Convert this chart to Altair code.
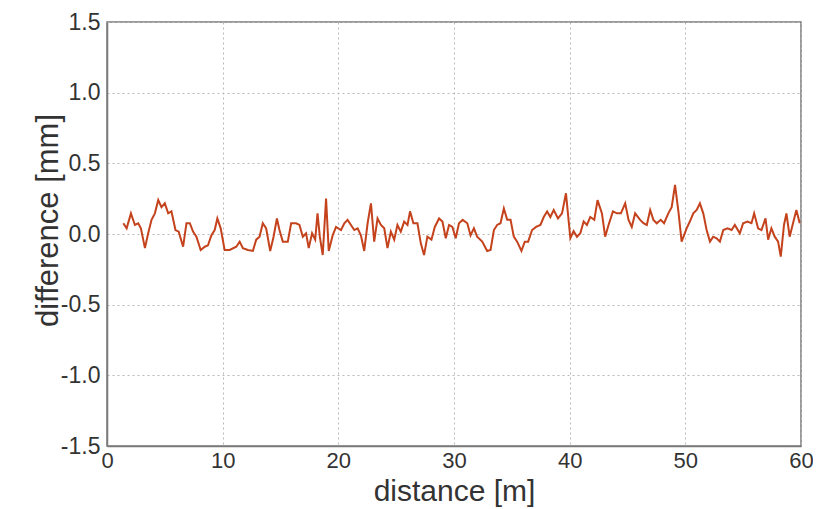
import altair as alt
import pandas as pd

distance = [
    1.41, 1.70, 2.07, 2.41, 2.70, 2.93, 3.28, 3.56, 3.85, 4.14, 4.43, 4.71, 5.00, 5.29, 5.57,
    5.92, 6.20, 6.58, 6.87, 7.16, 7.44, 7.73, 8.10, 8.45, 8.73, 9.02, 9.31, 9.54, 9.83, 10.17,
    10.60, 11.18, 11.47, 11.75, 12.18, 12.61, 12.90, 13.19, 13.47, 13.76, 14.11, 14.40, 14.69,
    14.91, 15.20, 15.63, 15.92, 16.35, 16.64, 16.93, 17.21, 17.44, 17.73, 18.00, 18.20, 18.40,
    18.65, 18.94, 19.17, 19.51, 19.80, 20.23, 20.52, 20.80, 21.09, 21.38, 21.67, 21.95, 22.24,
    22.53, 22.82, 23.10, 23.39, 23.68, 23.97, 24.25, 24.54, 24.83, 25.11, 25.40, 25.69, 25.98,
    26.20, 26.49, 26.84, 27.13, 27.41, 27.70, 28.05, 28.34, 28.71, 29.00, 29.29, 29.57, 29.86,
    30.15, 30.43, 30.75, 31.15, 31.43, 31.72, 32.00, 32.44, 32.87, 33.16, 33.45, 33.73, 34.02,
    34.31, 34.60, 34.89, 35.17, 35.46, 35.83, 36.12, 36.41, 36.75, 37.10, 37.47, 37.76, 38.05,
    38.33, 38.62, 38.99, 39.34, 39.68, 40.06, 40.34, 40.63, 40.92, 41.21, 41.49, 41.78, 42.13,
    42.41, 42.79, 43.07, 43.36, 43.74, 44.08, 44.43, 44.80, 45.09, 45.37, 45.66, 46.09, 46.38,
    46.67, 46.96, 47.24, 47.53, 47.87, 48.16, 48.53, 48.82, 49.11, 49.40, 49.68, 50.11, 50.40,
    50.69, 50.98, 51.26, 51.55, 51.84, 52.13, 52.41, 52.70, 52.99, 53.28, 53.65, 54.00, 54.28,
    54.71, 55.00, 55.37, 55.72, 55.95, 56.29, 56.58, 56.93, 57.16, 57.44, 57.73, 58.02, 58.25,
    58.53, 58.74, 59.02, 59.31, 59.60, 59.89,
]
difference = [
    0.076, 0.040, 0.146, 0.064, 0.076, 0.040, -0.100, 0.005, 0.100, 0.146, 0.240, 0.190, 0.217, 0.146, 0.160,
    0.028, 0.017, -0.090, 0.076, 0.076, 0.017, -0.019, -0.113, -0.090, -0.080, -0.010, 0.028, 0.110, 0.040, -0.113,
    -0.113, -0.090, -0.054, -0.100, -0.113, -0.120, -0.040, -0.019, 0.076, 0.040, -0.120, -0.019, 0.110,
    0.028, -0.054, -0.054, 0.076, 0.076, 0.064, -0.019, 0.005, -0.100, 0.005, -0.040, 0.146, -0.019,
    -0.149, 0.250, -0.120, -0.010, 0.050, 0.028, 0.076, 0.100, 0.064, 0.028, 0.040, -0.010, -0.120,
    0.076, 0.217, -0.054, 0.110, 0.064, 0.040, -0.100, 0.017, -0.040, 0.064, 0.017, 0.088, 0.064,
    0.160, 0.076, 0.076, -0.066, -0.149, -0.019, -0.040, 0.050, 0.110, 0.088, -0.030, 0.064, 0.050,
    -0.030, 0.076, 0.100, 0.076, -0.010, 0.040, -0.019, -0.054, -0.120, -0.113, 0.028, 0.064, 0.076,
    0.181, 0.100, 0.100, -0.019, -0.054, -0.120, -0.054, -0.054, 0.028, 0.050, 0.064, 0.120, 0.160,
    0.120, 0.170, 0.110, 0.146, 0.288, -0.030, 0.020, -0.020, 0.005, 0.088, 0.064, 0.120, 0.100,
    0.240, 0.146, -0.019, 0.064, 0.160, 0.146, 0.146, 0.217, 0.100, 0.050, 0.146, 0.100, 0.076,
    0.064, 0.170, 0.100, 0.076, 0.100, 0.076, 0.146, 0.190, 0.347, 0.160, -0.054, 0.040, 0.090,
    0.146, 0.170, 0.217, 0.146, 0.028, -0.054, -0.019, -0.030, -0.054, 0.028, 0.040, 0.028, 0.064,
    0.005, 0.076, 0.088, 0.076, 0.146, 0.040, 0.028, 0.110, -0.040, 0.040, -0.019, -0.054, -0.160,
    0.064, 0.146, -0.019, 0.076, 0.170, 0.076,
]
x_ticks = [0, 10, 20, 30, 40, 50, 60]
y_ticks = [-1.5, -1.0, -0.5, 0.0, 0.5, 1.0, 1.5]

df = pd.DataFrame({"distance": distance, "difference": difference})

FONT = "Liberation Sans"
GRID = "#b8b8b8"
AXIS = "#7a7a7a"
TEXT = "#333333"

chart = (
    alt.Chart(df)
    .mark_line(color="#c4421c", strokeWidth=2)
    .encode(
        x=alt.X(
            "distance:Q",
            scale=alt.Scale(domain=[0, 60], nice=False, zero=False),
            axis=alt.Axis(
                values=x_ticks,
                title="distance [m]",
                titleFont=FONT,
                titleFontSize=30,
                titleFontWeight="normal",
                titleColor=TEXT,
                titleX=347,
                titleY=54,
                titleAlign="center",
                titleBaseline="alphabetic",
                labelFont=FONT,
                labelFontSize=22,
                labelColor=TEXT,
                labelPadding=4,
                labelFlush=False,
                ticks=False,
                tickSize=0,
                grid=True,
                gridColor=GRID,
                gridDash=[2, 3],
                gridWidth=1,
                domainColor=AXIS,
                domainWidth=1.5,
            ),
        ),
        y=alt.Y(
            "difference:Q",
            scale=alt.Scale(domain=[-1.5, 1.5], nice=False, zero=False),
            axis=alt.Axis(
                values=y_ticks,
                format=".1f",
                labelExpr="replace(datum.label, '\u2212', '-')",
                title="difference [mm]",
                titleFont=FONT,
                titleFontSize=31,
                titleFontWeight="normal",
                titleColor=TEXT,
                titleAngle=270,
                titleX=-50,
                titleY=198,
                titleAlign="center",
                titleBaseline="alphabetic",
                labelFont=FONT,
                labelFontSize=23,
                labelColor=TEXT,
                labelPadding=7,
                labelFlush=False,
                ticks=False,
                tickSize=0,
                grid=True,
                gridColor=GRID,
                gridDash=[2, 3],
                gridWidth=1,
                domainColor=AXIS,
                domainWidth=1.5,
            ),
        ),
    )
    .properties(
        width=694,
        height=424,
        autosize=alt.AutoSizeParams(type="none"),
        padding={"left": 99, "top": 14, "right": 12, "bottom": 62},
        background="white",
    )
    .configure_view(stroke=AXIS, strokeWidth=1.5)
)

chart.save("out.html", embed_options={"renderer": "svg", "actions": False})
